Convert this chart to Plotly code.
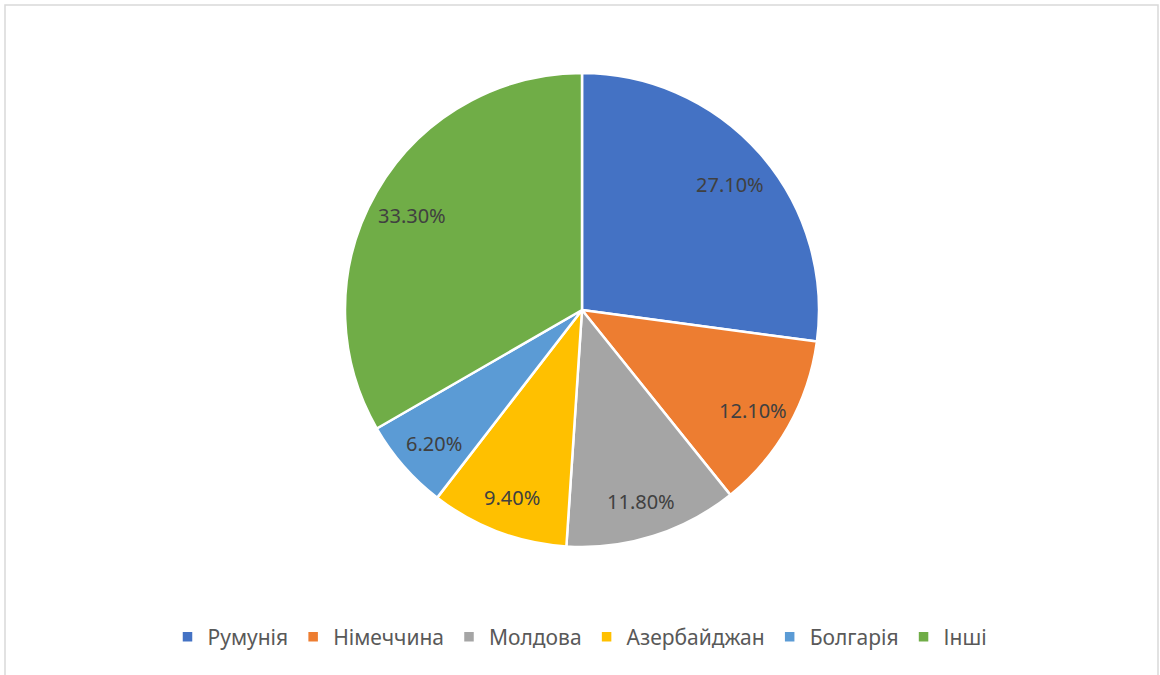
import math
import plotly.graph_objects as go

categories = ["Румунія", "Німеччина", "Молдова", "Азербайджан", "Болгарія", "Інші"]
values = [27.1, 12.1, 11.8, 9.4, 6.2, 33.3]
colors = ["#4472C4", "#ED7D31", "#A5A5A5", "#FFC000", "#5B9BD5", "#70AD47"]

W, H = 1160, 675
cx, cy, r = 582, 310, 237
FONT = "Noto Sans, Open Sans, sans-serif"

fig = go.Figure(go.Pie(
    labels=categories,
    values=values,
    sort=False,
    direction="clockwise",
    rotation=0,
    marker=dict(colors=colors, line=dict(color="white", width=2.5)),
    textinfo="none",
    domain=dict(x=[(cx - r) / W, (cx + r) / W], y=[1 - (cy + r) / H, 1 - (cy - r) / H]),
    hoverinfo="label+value",
))

# data labels placed at slice mid-angles (Excel-style best-fit radius)
total = sum(values)
cum = 0.0
annotations = []
for v in values:
    mid = (cum + v / 2) / total * 2 * math.pi
    cum += v
    d = 0.83 * r
    px = cx + d * math.sin(mid)
    py = cy - d * math.cos(mid) + 4
    annotations.append(dict(
        x=px / W, y=1 - py / H, xref="paper", yref="paper",
        text=f"{v:.2f}%", showarrow=False,
        font=dict(family=FONT, size=20, color="#404040"),
        xanchor="center", yanchor="middle",
    ))

fig.update_layout(
    width=W, height=H,
    margin=dict(l=0, r=0, t=0, b=0),
    paper_bgcolor="white",
    showlegend=True,
    legend=dict(
        orientation="h", x=0.5, xanchor="center", y=1 - 637 / H, yanchor="middle",
        font=dict(family=FONT, size=21, color="#595959"),
        itemwidth=30, traceorder="normal",
    ),
    annotations=annotations,
    shapes=[dict(type="rect", xref="paper", yref="paper",
                 x0=5 / W, x1=1158 / W, y0=-0.05, y1=1 - 5 / H,
                 line=dict(color="#D9D9D9", width=1.5))],
)

fig.write_html("out.html", config={"displayModeBar": False},
               post_script="document.body.style.margin='0';document.body.style.overflow='hidden';")
